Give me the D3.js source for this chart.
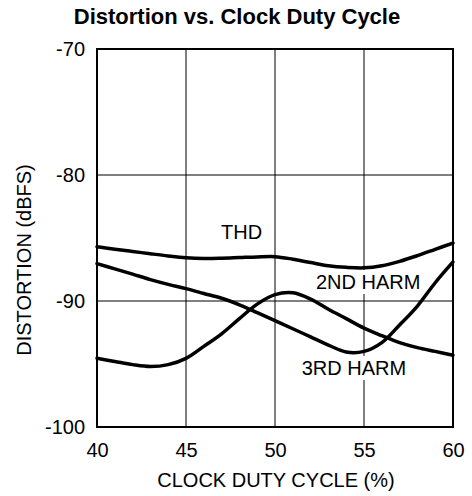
<!DOCTYPE html>
<meta charset="utf-8">
<style>
body { margin: 0; background: #fff; }
text { font-family: "Liberation Sans", Arial, sans-serif; fill: #000; }
.grid line { stroke: #000; stroke-width: 1px; }
.line { fill: none; stroke: #000; stroke-width: 3.5px; stroke-linejoin: round; stroke-linecap: round; }
</style>
<svg width="472" height="496"></svg>
<script src="https://d3js.org/d3.v7.min.js"></script>
<script>

// duty cycle (%) sample points
var duty = [40, 41, 42, 43, 44, 45, 46, 47, 48, 49, 50, 51, 52, 53, 54, 55, 56, 57, 58, 59, 60];

// distortion (dBFS)
var thd     = [-85.7, -85.9, -86.07, -86.25, -86.42, -86.56, -86.62, -86.6, -86.55, -86.5, -86.48,
               -86.68, -86.95, -87.2, -87.33, -87.37, -87.2, -86.85, -86.4, -85.9, -85.4];
var harm2nd = [-94.55, -94.8, -95.05, -95.2, -95.05, -94.55, -93.6, -92.6, -91.4, -90.25, -89.5,
               -89.35, -89.85, -90.65, -91.4, -92.15, -92.75, -93.3, -93.7, -94.0, -94.3];
var harm3rd = [-87.03, -87.45, -87.87, -88.3, -88.68, -89.02, -89.4, -89.78, -90.3, -90.92, -91.56,
               -92.2, -92.85, -93.5, -94.05, -94.0, -93.3, -91.9, -90.4, -88.55, -86.9];

var xTicks = [40, 45, 50, 55, 60];
var yTicks = [-100, -90, -80, -70];

// curve labels: text, duty, dBFS (left / baseline)
var labels = [
  {text: "THD",      x: 46.97, y: -85.08, bg: false},
  {text: "2ND HARM", x: 52.3,  y: -89.05, bg: true},
  {text: "3RD HARM", x: 51.5,  y: -95.87, bg: true}
];

var svg = d3.select("svg");

var x = d3.scaleLinear().domain([40, 60]).range([97, 453]);
var y = d3.scaleLinear().domain([-100, -70]).range([427, 49]);

// grid
svg.append("g")
  .attr("class", "grid")
  .selectAll("line.v")
  .data(xTicks.slice(1, -1))
  .enter().append("line")
  .attr("x1", d => x(d)).attr("x2", d => x(d))
  .attr("y1", y(-100)).attr("y2", y(-70));

svg.select(".grid")
  .selectAll("line.h")
  .data(yTicks.slice(1, -1))
  .enter().append("line")
  .attr("x1", x(40)).attr("x2", x(60))
  .attr("y1", d => y(d)).attr("y2", d => y(d));

// tick labels
var xAxis = svg.append("g")
  .attr("transform", "translate(0," + y(-100) + ")")
  .call(d3.axisBottom(x).tickValues(xTicks).tickSize(0).tickPadding(16));
xAxis.select(".domain").remove();
xAxis.selectAll("text").style("font-size", "20px").attr("font-family", null);

var yAxis = svg.append("g")
  .attr("transform", "translate(" + x(40) + ",0)")
  .call(d3.axisLeft(y).tickValues(yTicks).tickSize(0).tickPadding(12)
    .tickFormat(function(d) { return String(d); }));
yAxis.select(".domain").remove();
yAxis.selectAll("text").style("font-size", "20px").attr("font-family", null);

// label backgrounds + labels
var lab = svg.append("g");
labels.forEach(function(l) {
  var t = lab.append("text")
    .attr("x", x(l.x)).attr("y", y(l.y))
    .style("font-size", "20px")
    .text(l.text);
  if (l.bg) {
    var b = t.node().getBBox();
    lab.insert("rect", "text")
      .attr("x", b.x - 2).attr("y", b.y - 1)
      .attr("width", b.width + 4).attr("height", b.height + 2)
      .attr("fill", "#fff");
  }
});

// frame
svg.append("rect")
  .attr("x", x(40)).attr("y", y(-70))
  .attr("width", x(60) - x(40)).attr("height", y(-100) - y(-70))
  .attr("fill", "none").attr("stroke", "#000").attr("stroke-width", 2);

// curves
var line = d3.line()
  .x(function(d) { return x(d[0]); })
  .y(function(d) { return y(d[1]); })
  .curve(d3.curveCatmullRom.alpha(0.5));

[thd, harm2nd, harm3rd].forEach(function(s) {
  svg.append("path")
    .attr("class", "line")
    .attr("d", line(duty.map(function(v, i) { return [v, s[i]]; })));
});

// titles
svg.append("text")
  .attr("x", 237).attr("y", 24)
  .attr("text-anchor", "middle")
  .style("font-size", "22px").style("font-weight", "bold")
  .text("Distortion vs. Clock Duty Cycle");

svg.append("text")
  .attr("x", 276).attr("y", 487)
  .attr("text-anchor", "middle")
  .style("font-size", "20px")
  .text("CLOCK DUTY CYCLE (%)");

svg.append("text")
  .attr("transform", "translate(31,260) rotate(-90)")
  .attr("text-anchor", "middle")
  .style("font-size", "20px")
  .text("DISTORTION (dBFS)");

</script>
